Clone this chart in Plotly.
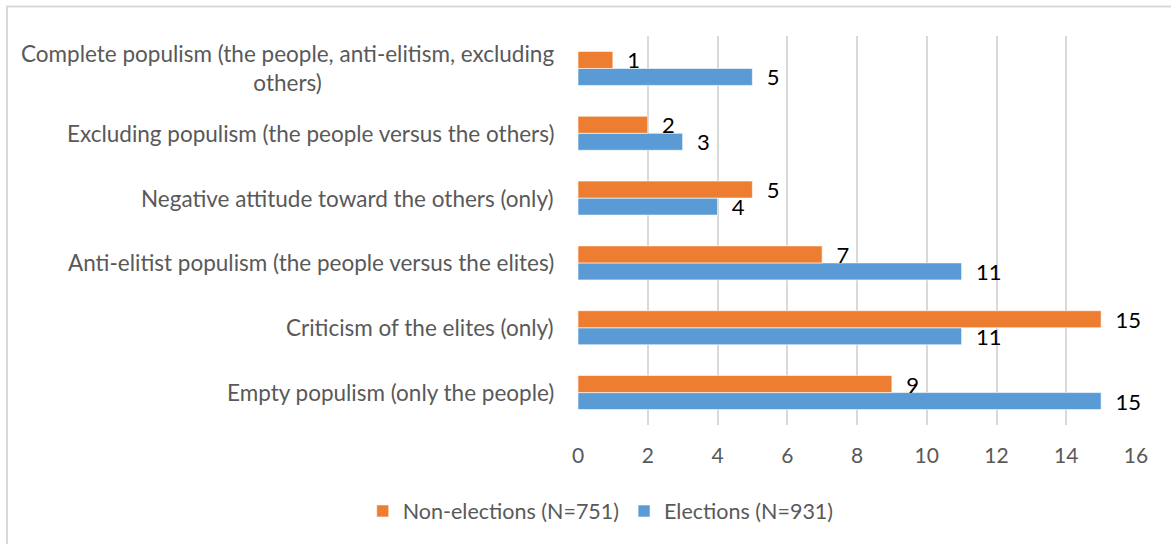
import plotly.graph_objects as go

categories = [
    "Empty populism (only the people)",
    "Criticism of the elites (only)",
    "Anti-elitist populism (the people versus the elites)",
    "Negative attitude toward the others (only)",
    "Excluding populism (the people versus the others)",
    "Complete populism (the people, anti-elitism, excluding<br>others)",
]
elections = [15, 11, 11, 4, 3, 5]
non_elections = [9, 15, 7, 5, 2, 1]
x_ticks = [0, 2, 4, 6, 8, 10, 12, 14, 16]

FONT = "Lato"
GRAY = "#595959"
ORANGE = "#ED7D31"
BLUE = "#5B9BD5"
W, H = 1171, 544
L, R, T, B = 578, 35, 36, 119
pad = "\u00a0\u00a0"

fig = go.Figure()
fig.add_trace(go.Bar(
    y=categories, x=elections, orientation="h", name="Elections (N=931)",
    marker=dict(color=BLUE, line=dict(color="white", width=0.6)),
    text=elections, texttemplate=pad + "%{x}", textposition="outside",
    textfont=dict(family=FONT, size=22, color="black"),
    cliponaxis=False, constraintext="none",
))
fig.add_trace(go.Bar(
    y=categories, x=non_elections, orientation="h", name="Non-elections (N=751)",
    marker=dict(color=ORANGE, line=dict(color="white", width=0.6)),
    text=non_elections, texttemplate=pad + "%{x}", textposition="outside",
    textfont=dict(family=FONT, size=22, color="black"),
    cliponaxis=False, constraintext="none",
))

annotations = []
for c in categories:
    annotations.append(dict(
        text=c, x=0, xref="paper", y=c, yref="y", xanchor="right",
        xshift=-22, align="center", showarrow=False,
        font=dict(family=FONT, size=22.5, color=GRAY),
    ))

pw, ph = W - L - R, H - T - B
fig.update_layout(
    width=W, height=H,
    margin=dict(l=L, r=R, t=T, b=B),
    paper_bgcolor="white", plot_bgcolor="white",
    barmode="group", bargap=0.475, bargroupgap=0,
    font=dict(family=FONT, color=GRAY),
    showlegend=True,
    legend=dict(
        orientation="h", traceorder="reversed", itemwidth=30,
        xref="container", x=0.513, xanchor="center",
        yref="container", y=(H - 511) / H, yanchor="middle",
        font=dict(family=FONT, size=21.5, color=GRAY),
    ),
    xaxis=dict(
        range=[0, 16], tickvals=x_ticks, showgrid=True, gridcolor="#d9d9d9",
        gridwidth=1.5, zeroline=False, showline=False,
        tickfont=dict(family=FONT, size=21, color=GRAY), ticklabelstandoff=16,
    ),
    yaxis=dict(
        categoryorder="array", categoryarray=categories, showticklabels=False,
        showgrid=False, zeroline=False, showline=False,
    ),
    annotations=annotations,
    shapes=[
        dict(type="rect", xref="paper", yref="paper",
             x0=(7 - L) / pw, x1=(W + 20 - L) / pw,
             y0=(H - B - (H + 20)) / ph, y1=(H - B - 6.5) / ph,
             line=dict(color="#d9d9d9", width=2), fillcolor="rgba(0,0,0,0)",
             layer="below"),
    ],
)

fig.write_html(
    "out.html",
    config={"displayModeBar": False},
    post_script="document.body.style.margin='0';document.body.style.overflow='hidden';",
)
